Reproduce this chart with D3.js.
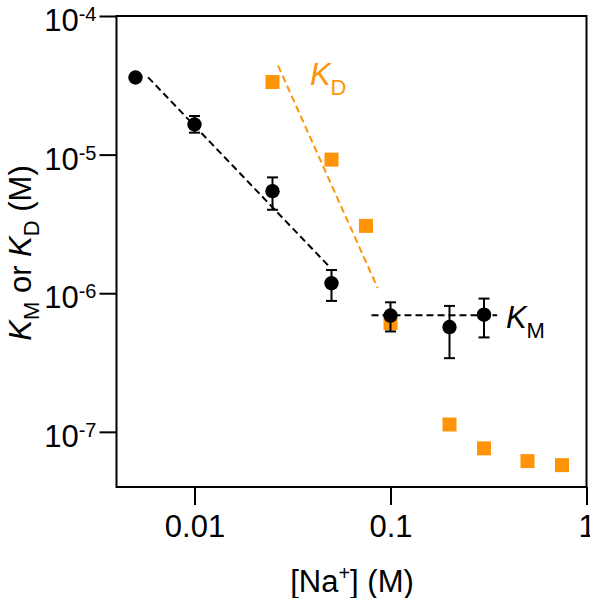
<!DOCTYPE html>
<html>
<head>
<meta charset="utf-8">
<script src="https://cdn.jsdelivr.net/npm/d3@7"></script>
<style>
  html, body { margin: 0; padding: 0; background: #fff; }
  svg { display: block; font-family: "Liberation Sans", Arial, Helvetica, sans-serif; }
</style>
</head>
<body>
<svg id="chart" width="590" height="598"></svg>
<script>
// ---- data ----
const kmX = [0.005, 0.01, 0.025, 0.05, 0.1, 0.2, 0.3];
const kmY = [3.6e-5, 1.65e-5, 5.45e-6, 1.18e-6, 6.9e-7, 5.7e-7, 7.0e-7];
const kmErrLo = [3.6e-5, 1.44e-5, 4.0e-6, 8.8e-7, 5.3e-7, 3.4e-7, 4.8e-7];
const kmErrHi = [3.6e-5, 1.9e-5, 6.85e-6, 1.47e-6, 8.6e-7, 8.1e-7, 9.15e-7];

const kdX = [0.025, 0.05, 0.075, 0.1, 0.2, 0.3, 0.5, 0.75];
const kdY = [3.34e-5, 9.2e-6, 3.06e-6, 6.1e-7, 1.13e-7, 7.6e-8, 6.15e-8, 5.75e-8];

// fit lines (endpoints in data units)
const kmFitLowX = [0.0058, 0.048];
const kmFitLowY = [3.61e-5, 1.59e-6];
const kmFitHighX = [0.08, 0.35];
const kmFitHighY = [6.93e-7, 6.93e-7];
const kdFitX = [0.0267, 0.086];
const kdFitY = [4.38e-5, 1.09e-6];

const xTicks = [0.01, 0.1, 1];
const xTickLabels = ["0.01", "0.1", "1"];
const yTicks = [1e-7, 1e-6, 1e-5, 1e-4];
const yTickExp = ["-7", "-6", "-5", "-4"];

const xDomain = [0.004, 1];
const yDomain = [4e-8, 1e-4];

// ---- layout ----
const ORANGE = "#ff9408";
const mLeft = 116.5, mTop = 16, mRight = 586.5, mBottom = 487;
const svg = d3.select("#chart");

const x = d3.scaleLog().domain(xDomain).range([mLeft, mRight]);
const y = d3.scaleLog().domain(yDomain).range([mBottom, mTop]);

// box
svg.append("rect")
  .attr("x", mLeft).attr("y", mTop)
  .attr("width", mRight - mLeft).attr("height", mBottom - mTop)
  .attr("fill", "none").attr("stroke", "#000").attr("stroke-width", 2);

// x axis
const xAxis = svg.append("g").attr("transform", `translate(0,${mBottom})`)
  .call(d3.axisBottom(x).tickValues(xTicks).tickSize(18).tickFormat((d, i) => xTickLabels[i]));
xAxis.select(".domain").remove();
xAxis.selectAll("line").attr("stroke", "#000").attr("stroke-width", 2);
xAxis.selectAll("text").attr("font-size", 31).attr("fill", "#000")
  .attr("font-family", "Liberation Sans, Arial, sans-serif")
  .attr("y", 49.5).attr("dy", 0);

// y axis
const yAxis = svg.append("g").attr("transform", `translate(${mLeft},0)`)
  .call(d3.axisLeft(y).tickValues(yTicks).tickSize(17).tickFormat(""));
yAxis.select(".domain").remove();
yAxis.selectAll("line").attr("stroke", "#000").attr("stroke-width", 2);
yAxis.selectAll(".tick").each(function(d) {
  const t = d3.select(this).append("text")
    .attr("x", -20).attr("y", 14.5)
    .attr("text-anchor", "end").attr("fill", "#000")
    .attr("font-size", 31)
    .attr("font-family", "Liberation Sans, Arial, sans-serif");
  t.append("tspan").text("10");
  t.append("tspan").attr("font-size", 20).attr("dy", -10).text(yTickExp[yTicks.indexOf(d)]);
});

// axis titles
const xt = svg.append("text")
  .attr("x", 352).attr("y", 592)
  .attr("text-anchor", "middle").attr("font-size", 31).attr("fill", "#000");
xt.append("tspan").text("[Na");
xt.append("tspan").attr("font-size", 20).attr("dy", -12).text("+");
xt.append("tspan").attr("dy", 12).text("] (M)");

const yt = svg.append("text")
  .attr("transform", "translate(31,253) rotate(-90)")
  .attr("text-anchor", "middle").attr("font-size", 31).attr("fill", "#000");
yt.append("tspan").attr("font-style", "italic").text("K");
yt.append("tspan").attr("font-size", 22).attr("dy", 8).text("M");
yt.append("tspan").attr("dy", -8).text(" or ");
yt.append("tspan").attr("font-style", "italic").text("K");
yt.append("tspan").attr("font-size", 22).attr("dy", 8).text("D");
yt.append("tspan").attr("dy", -8).text(" (M)");

// fit lines
const line = d3.line().x(d => x(d[0])).y(d => y(d[1]));
function drawFit(xs, ys, color) {
  svg.append("path")
    .attr("d", line(xs.map((v, i) => [v, ys[i]])))
    .attr("fill", "none").attr("stroke", color)
    .attr("stroke-width", 2).attr("stroke-dasharray", "7,4");
}
drawFit(kdFitX, kdFitY, ORANGE);

// KD squares
const sq = 14;
svg.append("g").selectAll("rect").data(kdX).join("rect")
  .attr("x", (d) => x(d) - sq / 2)
  .attr("y", (d, i) => y(kdY[i]) - sq / 2)
  .attr("width", sq).attr("height", sq)
  .attr("fill", ORANGE);

drawFit(kmFitLowX, kmFitLowY, "#000");
drawFit(kmFitHighX, kmFitHighY, "#000");

// KM error bars
const eb = svg.append("g").attr("stroke", "#000").attr("stroke-width", 2);
kmX.forEach((xv, i) => {
  if (kmErrHi[i] === kmErrLo[i]) return;
  const cx = x(xv);
  eb.append("line").attr("x1", cx).attr("x2", cx).attr("y1", y(kmErrHi[i])).attr("y2", y(kmErrLo[i]));
  eb.append("line").attr("x1", cx - 5.5).attr("x2", cx + 5.5).attr("y1", y(kmErrHi[i])).attr("y2", y(kmErrHi[i]));
  eb.append("line").attr("x1", cx - 5.5).attr("x2", cx + 5.5).attr("y1", y(kmErrLo[i])).attr("y2", y(kmErrLo[i]));
});

// KM circles
svg.append("g").selectAll("circle").data(kmX).join("circle")
  .attr("cx", d => x(d))
  .attr("cy", (d, i) => y(kmY[i]))
  .attr("r", 7.2)
  .attr("fill", "#000");

// annotations
const kdLab = svg.append("text")
  .attr("x", x(0.0388)).attr("y", y(3.18e-5))
  .attr("font-size", 31).attr("fill", ORANGE);
kdLab.append("tspan").attr("font-style", "italic").text("K");
kdLab.append("tspan").attr("font-size", 22).attr("dy", 10).text("D");

const kmLab = svg.append("text")
  .attr("x", x(0.388)).attr("y", y(5.65e-7))
  .attr("font-size", 31).attr("fill", "#000");
kmLab.append("tspan").attr("font-style", "italic").text("K");
kmLab.append("tspan").attr("font-size", 22).attr("dy", 10).text("M");
</script>
</body>
</html>
